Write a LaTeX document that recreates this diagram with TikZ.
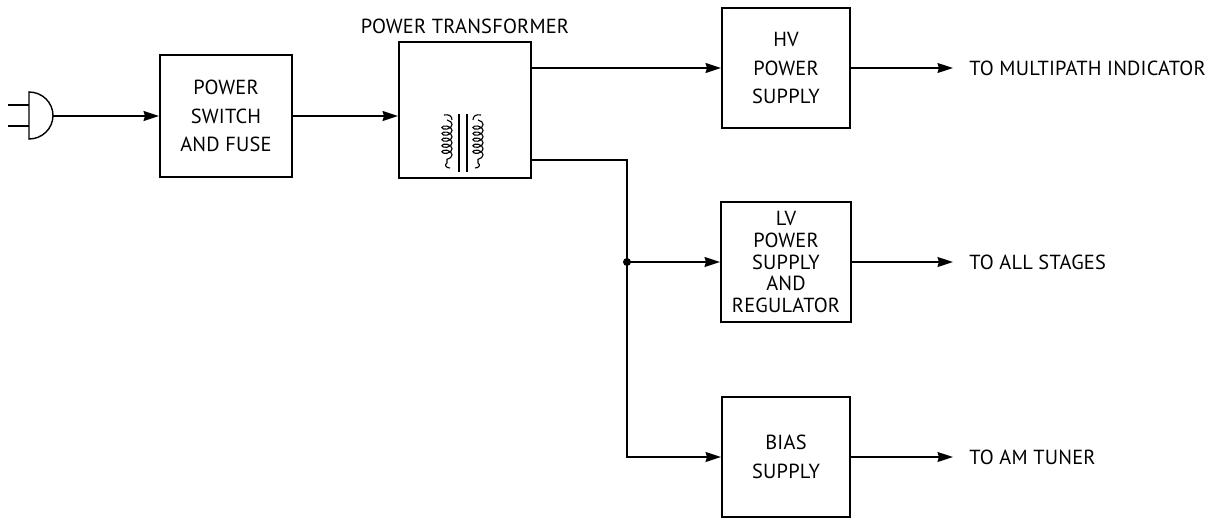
\documentclass[tikz,border=0pt]{standalone}
\usepackage{fontspec}
\setmainfont[LetterSpace=1]{PT Sans}
\usetikzlibrary{arrows.meta, positioning, decorations.pathmorphing}

\begin{document}
\begin{tikzpicture}[
    x=0.025cm, y=-0.025cm,
    every node/.style={font=\fontsize{14.5}{20.5}\selectfont, align=center},
    block/.style={draw, line width=1.3pt, inner sep=0pt},
    arrow/.style={-{Stealth[length=11pt, width=7pt, inset=1pt]}, line width=1.3pt},
    label/.style={anchor=west, inner sep=0pt},
    winding/.style={line width=0.8pt, decorate, decoration={coil, aspect=0.6, segment length=4.3pt, amplitude=3.6pt}}
    ]
\useasboundingbox (0,0) rectangle (1216,521);

% Blocks
\node (switch) [block, minimum width=3.3cm, minimum height=3.05cm] at (226,116) {POWER\\SWITCH\\AND FUSE};
\node (xfmr) [block, minimum width=3.3cm, minimum height=3.4cm] at (465,110) {};
\node (hv) [block, minimum width=3.2cm, minimum height=3cm] at (786,68) {HV\\POWER\\SUPPLY};
\node (lv) [block, minimum width=3.25cm, minimum height=3cm, font=\fontsize{14.5}{15.6}\selectfont] at (786,262) {LV\\POWER\\SUPPLY\\AND\\REGULATOR};
\node (bias) [block, minimum width=3.2cm, minimum height=3cm] at (786,457) {BIAS\\SUPPLY};

% Plug
\coordinate (plugtop) at (29,92);
\coordinate (plugbot) at (29,139);
\coordinate (plugface) at (53,116);
\draw[line width=1pt] (plugtop) arc[start angle=90, end angle=-90, x radius=24, y radius=-23.5] -- cycle;
\draw[line width=1pt] (plugtop) ++(0,13) -- ++(-21,0);
\draw[line width=1.3pt] (plugbot) ++(0,-13) -- ++(-21,0);

% Labels
\node (title) [inner sep=0pt] at (465,26) {POWER TRANSFORMER};
\node (hvout) [label] at (969,68) {TO MULTIPATH INDICATOR};
\node (lvout) [label] at (969,262) {TO ALL STAGES};
\node (biasout) [label] at (969,457) {TO AM TUNER};

% Transformer symbol
\draw[winding] (447,120) -- (447,163);
\draw[winding] (478,120) -- (478,163);
\draw[line width=0.8pt] (452,120) .. controls (452,116) and (449,114) .. (444,115);
\draw[line width=0.8pt] (473,120) .. controls (473,116) and (476,114) .. (481,115);
\draw[line width=0.8pt] (447,163) .. controls (444,165) and (446,168) .. (450,168);
\draw[line width=0.8pt] (478,163) .. controls (481,165) and (479,168) .. (475,168);
\draw[line width=0.8pt] (459,114) -- (459,172);
\draw[line width=0.8pt] (467,114) -- (467,172);

% Arrows
\coordinate (hvend) at (953,68);
\coordinate (lvend) at (953,262);
\coordinate (biasend) at (953,457);
\coordinate (split) at (627,262);
\coordinate (corner) at (627,160);
\draw[arrow] (plugface) -- (switch);
\draw[arrow] (switch) -- (xfmr.west |- switch);
\draw[arrow] (xfmr.east |- hv) -- (hv);
\draw[line width=1.3pt] (xfmr.east |- corner) -- (corner) -- (split);
\draw[arrow] (split) -- (lv);
\draw[arrow] (split) |- (bias);
\draw[arrow] (hv) -- (hvend);
\draw[arrow] (lv) -- (lvend);
\draw[arrow] (bias) -- (biasend);
\fill (split) circle[radius=4];

\end{tikzpicture}
\end{document}
